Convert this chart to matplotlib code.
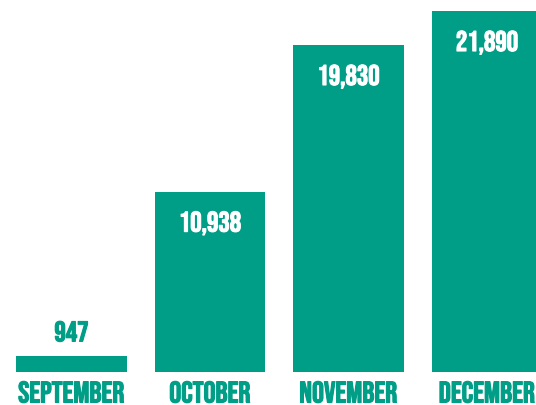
import matplotlib
matplotlib.use("Agg")
import matplotlib.pyplot as plt
import matplotlib.patheffects as pe

months = ["SEPTEMBER", "OCTOBER", "NOVEMBER", "DECEMBER"]
values = [947, 10938, 19830, 21890]
value_labels = ["947", "10,938", "19,830", "21,890"]

teal = "#009E87"
fam = ["Bebas Neue", "DejaVu Sans"]

fig = plt.figure(figsize=(5.36, 4.05), dpi=100)
ax = fig.add_axes([0, 0.0815, 1, 0.9185])
ax.bar(range(len(values)), values, width=0.8, color=teal)
ax.set_xlim(-0.516, 3.354)
ax.set_ylim(0, 22558)
ax.axis("off")

for i, (v, lab) in enumerate(zip(values, value_labels)):
    if v > 5000:
        ax.annotate(lab, (i, v), xytext=(0, -30), textcoords="offset pixels",
                    ha="center", va="center_baseline", color="white", fontsize=20.5,
                    family=fam,
                    path_effects=[pe.withStroke(linewidth=0.8, foreground="white")])
    else:
        ax.annotate(lab, (i, v), xytext=(0, 25), textcoords="offset pixels",
                    ha="center", va="center_baseline", color=teal, fontsize=20.5,
                    family=fam,
                    path_effects=[pe.withStroke(linewidth=0.8, foreground=teal)])
    ax.annotate(months[i], (i, 0), xytext=(0, -20), textcoords="offset pixels",
                ha="center", va="center_baseline", color=teal, fontsize=21.5,
                family=fam, annotation_clip=False,
                path_effects=[pe.withStroke(linewidth=0.8, foreground=teal)])

fig.savefig("out.png", dpi=100)
